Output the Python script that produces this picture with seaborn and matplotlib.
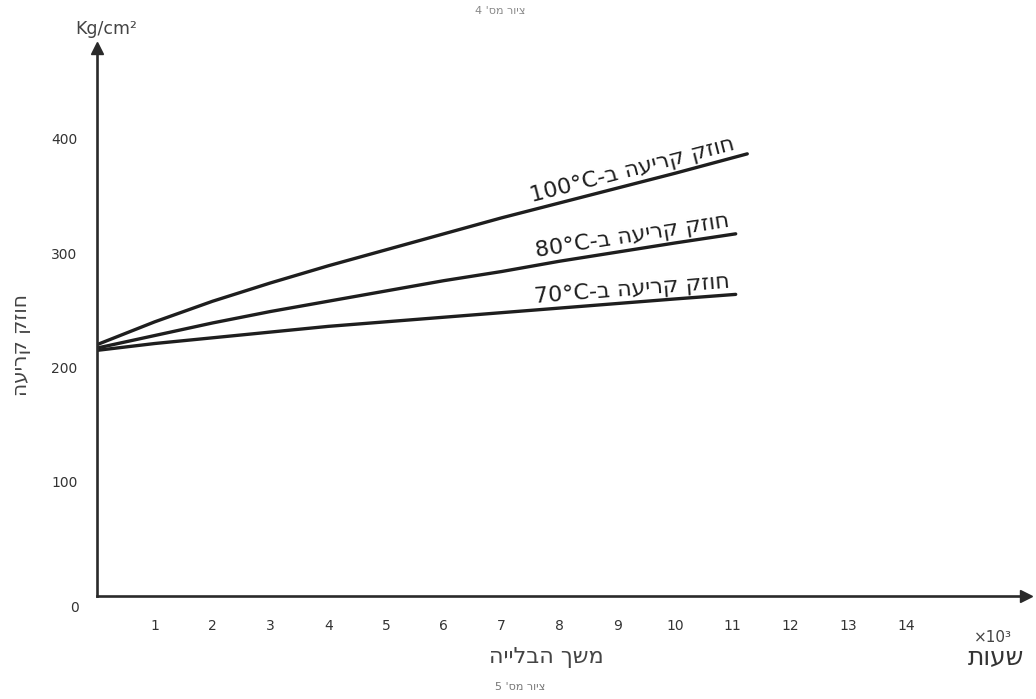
import numpy as np
import pandas as pd
import matplotlib
matplotlib.use("Agg")
import matplotlib.pyplot as plt
import seaborn as sns

# ---- data (hours x10^3 vs tear strength kg/cm^2) ----
hours = [0, 1, 2, 3, 4, 5, 6, 7, 8, 9, 10, 11.25]
s100 = [220, 240, 258, 274, 289, 303, 317, 331, 344, 357, 370, 387]
s80 = [217, 228, 239, 249, 258, 267, 276, 284, 293, 301, 309, 317]
s70 = [215, 221, 226, 231, 236, 240, 244, 248, 252, 256, 260, 264]
hours80 = [0, 1, 2, 3, 4, 5, 6, 7, 8, 9, 10, 11.05]
series_labels = ["100°C-ב העירק קזוח", "80°C-ב העירק קזוח", "70°C-ב העירק קזוח"]
x_ticks = list(range(1, 15))
y_ticks = [100, 200, 300, 400]

sns.set_style("white")
plt.rcParams['font.family'] = ['DejaVu Sans']

W, H = 1036, 699
fig = plt.figure(figsize=(W / 100, H / 100), dpi=100)
x0_px, y0_px = 97, 596
px_x, px_y = 57.8, 1.1425
xmax = (1026 - x0_px) / px_x
ymax = (y0_px - 48) / px_y
ax = fig.add_axes([x0_px / W, (H - y0_px) / H, (1026 - x0_px) / W, (y0_px - 48) / H])
ax.set_xlim(0, xmax)
ax.set_ylim(0, ymax)

df = pd.concat([
    pd.DataFrame({"h": hours, "v": s100, "s": "100"}),
    pd.DataFrame({"h": hours80, "v": s80, "s": "80"}),
    pd.DataFrame({"h": hours80, "v": s70, "s": "70"}),
])
sns.lineplot(data=df, x="h", y="v", hue="s", palette=["#1e1e1e"] * 3,
             linewidth=2.4, legend=False, ax=ax, estimator=None, sort=True)

for sp in ["top", "right"]:
    ax.spines[sp].set_visible(False)
for sp in ["left", "bottom"]:
    ax.spines[sp].set_linewidth(1.9)
    ax.spines[sp].set_color("#2a2a2a")
ax.plot(1, 0, ">", color="#2a2a2a", markersize=9, transform=ax.get_yaxis_transform(), clip_on=False)
ax.plot(0, 1, "^", color="#2a2a2a", markersize=9, transform=ax.get_xaxis_transform(), clip_on=False)

ax.set_xticks(x_ticks)
ax.set_xticklabels([str(t) for t in x_ticks])
ax.set_yticks(y_ticks)
ax.set_yticklabels([str(t) for t in y_ticks])
ax.tick_params(axis="x", direction="inout", length=7, width=1, colors="#555555",
               labelsize=10, pad=13, labelcolor="#333333")
ax.tick_params(axis="y", direction="out", length=5, width=1, colors="#555555",
               labelsize=10, pad=9, labelcolor="#333333")
ax.set_xlabel("")
ax.set_ylabel("")
ax.grid(False)

# zero label
ax.annotate("0", xy=(0, 0), xytext=(-13, -9), textcoords="offset points",
            ha="right", va="center", fontsize=10, color="#333333", annotation_clip=False)

# line labels along curves
fig.canvas.draw()
label_x = 9.26
for xs, ys, lab, off in [(hours, s100, series_labels[0], 10.5),
                         (hours80, s80, series_labels[1], 10),
                         (hours80, s70, series_labels[2], 9.5)]:
    yv = np.interp(label_x, xs, ys)
    p1 = ax.transData.transform((label_x - 1, np.interp(label_x - 1, xs, ys)))
    p2 = ax.transData.transform((label_x + 1, np.interp(label_x + 1, xs, ys)))
    ang = np.degrees(np.arctan2(p2[1] - p1[1], p2[0] - p1[0]))
    ax.annotate(lab, xy=(label_x, yv), xytext=(0, off), textcoords="offset points",
                ha="center", va="center", rotation=ang, rotation_mode="anchor",
                fontsize=16, color="#1e1e1e")

def ftext(x, y, s, **kw):
    fig.text(x / W, 1 - y / H, s, **kw)

ftext(106, 29, "Kg/cm²", ha="center", va="center", fontsize=12.5, color="#444444")
ftext(22, 345, "העירק קזוח", ha="center", va="center", rotation=90, fontsize=14.5, color="#444444")
ftext(546, 657, "היילבה ךשמ", ha="center", va="center", fontsize=16, color="#444444")
ftext(993, 637, "×10³", ha="center", va="center", fontsize=11, color="#444444")
ftext(996, 657, "תועש", ha="center", va="center", fontsize=18, color="#333333")
ftext(520, 687, "5 'סמ רויצ", ha="center", va="center", fontsize=8, color="#777777")
ftext(500, 11, "4 'סמ רויצ", ha="center", va="center", fontsize=8, color="#888888")

fig.savefig("out.png", dpi=100, facecolor="white")
